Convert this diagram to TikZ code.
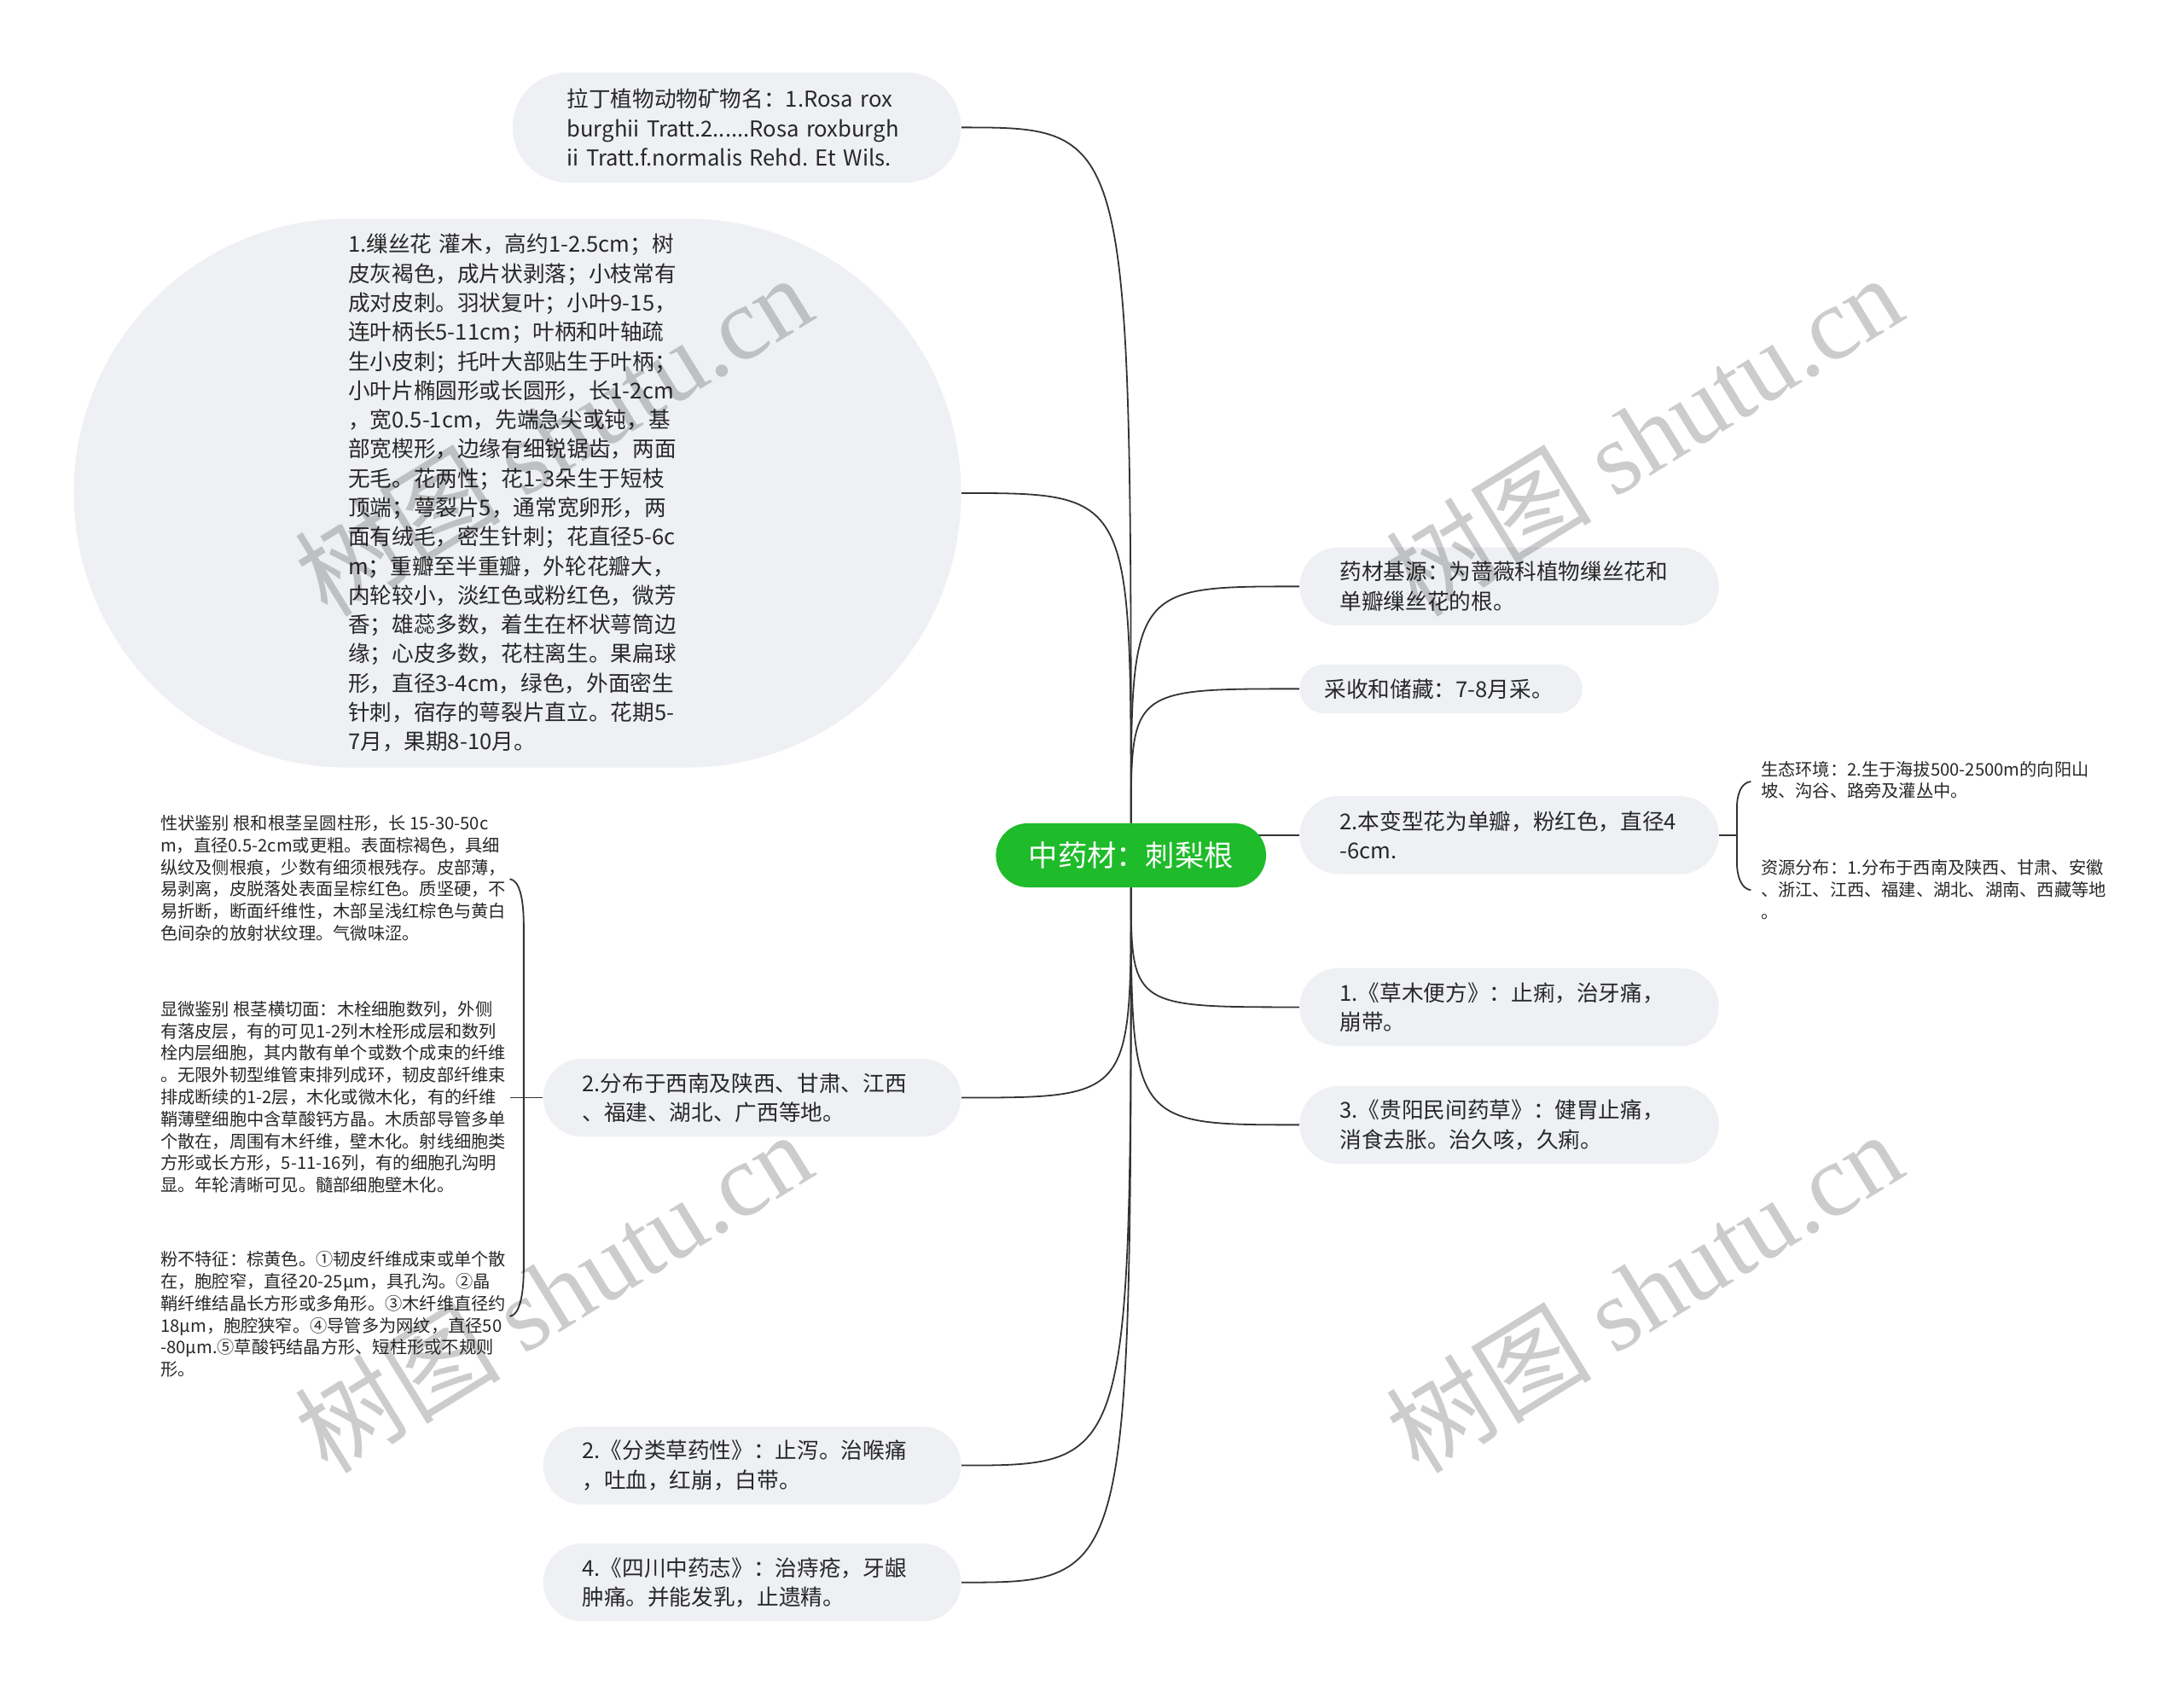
\documentclass[tikz,border=0pt]{standalone}
\usepackage{fontspec}
\setmainfont{Noto Sans CJK SC}
\newfontfamily\wmlat{Liberation Serif}
\usetikzlibrary{backgrounds}
\definecolor{bubfill}{RGB}{238,240,243}
\definecolor{linecol}{RGB}{51,51,51}
\definecolor{rootgreen}{RGB}{30,187,42}
\definecolor{txtcol}{RGB}{40,40,40}
\frenchspacing
\begin{document}
\begin{tikzpicture}[x=1pt,y=-1pt,
  every node/.append style={execute at begin node={\frenchspacing\exhyphenpenalty=10000\hyphenpenalty=10000}},
  bubble/.style={fill=bubfill, rectangle, inner ysep=0pt, align=left, text=txtcol,
    font=\fontsize{15.7}{21}\selectfont},
  twoline/.style={bubble, minimum height=56pt, rounded corners=28pt},
  leaftext/.style={inner sep=0pt, align=left, anchor=west, text=txtcol,
    font=\fontsize{12.4}{15.8}\selectfont},
  conn/.style={draw=linecol, line width=1.1pt},
  wmark/.style={text=black, opacity=0.2, font=\fontsize{74}{74}\selectfont, inner sep=0pt}]
\useasboundingbox (0,0) rectangle (1568,1218);

% root
\node[fill=rootgreen, text=white, rounded corners=23pt, minimum width=194pt,
  minimum height=46pt, inner sep=0pt, font=\fontsize{21}{21}\selectfont] (c) at (812,614) {中药材：刺梨根};

% upper left
\node[bubble, minimum width=322pt, minimum height=79pt, rounded corners=39.5pt,
  inner xsep=39pt, text width=244pt] (lat) at (529,91.5)
  {\mbox{拉丁植物动物矿物名：1.Rosa rox}\\\mbox{burghii Tratt.2......Rosa roxburgh}\\\mbox{ii Tratt.f.normalis Rehd. Et Wils.}};

\node[bubble, minimum width=637pt, minimum height=394pt, rounded corners=196.9pt,
  inner xsep=197pt, text width=243pt] (big) at (371.5,354)
  {\mbox{1.缫丝花 灌木，高约1-2.5cm；树}\\皮灰褐色，成片状剥落；小枝常有\\成对皮刺。羽状复叶；小叶9-15，\\连叶柄长5-11cm；叶柄和叶轴疏\\生小皮刺；托叶大部贴生于叶柄；\\小叶片椭圆形或长圆形，长1-2cm\\，宽0.5-1cm，先端急尖或钝，基\\部宽楔形，边缘有细锐锯齿，两面\\无毛。花两性；花1-3朵生于短枝\\顶端；萼裂片5，通常宽卵形，两\\面有绒毛，密生针刺；花直径5-6c\\m；重瓣至半重瓣，外轮花瓣大，\\内轮较小，淡红色或粉红色，微芳\\香；雄蕊多数，着生在杯状萼筒边\\缘；心皮多数，花柱离生。果扁球\\形，直径3-4cm，绿色，外面密生\\针刺，宿存的萼裂片直立。花期5-\\7月，果期8-10月。};

% right
\node[twoline, minimum width=301pt, inner xsep=29pt, text width=243pt] (r1) at (1083.5,421)
  {药材基源：为蔷薇科植物缫丝花和\\单瓣缫丝花的根。};
\node[bubble, minimum width=203pt, minimum height=35pt, rounded corners=17.5pt,
  inner xsep=18pt, text width=167pt] (r2) at (1034.5,494.5) {采收和储藏：7-8月采。};
\node[twoline, minimum width=301pt, inner xsep=29pt, text width=243pt] (r3) at (1083.5,599.5)
  {2.本变型花为单瓣，粉红色，直径4\\-6cm.};
\node[twoline, minimum width=301pt, inner xsep=29pt, text width=243pt] (r4) at (1083.5,723)
  {1.《草木便方》：止痢，治牙痛，\\崩带。};
\node[twoline, minimum width=301pt, inner xsep=29pt, text width=243pt] (r5) at (1083.5,807.5)
  {3.《贵阳民间药草》：健胃止痛，\\消食去胀。治久咳，久痢。};

% right leaves
\node[leaftext] (rt1) at (1264,560) {生态环境：2.生于海拔500-2500m的向阳山\\坡、沟谷、路旁及灌丛中。};
\node[leaftext] (rt2) at (1264,638.5) {资源分布：1.分布于西南及陕西、甘肃、安徽\\、浙江、江西、福建、湖北、湖南、西藏等地\\。};

% lower left
\node[twoline, minimum width=300pt, inner xsep=28pt, text width=244pt] (l1) at (540,788)
  {2.分布于西南及陕西、甘肃、江西\\、福建、湖北、广西等地。};
\node[twoline, minimum width=300pt, inner xsep=28pt, text width=244pt] (l2) at (540,1052)
  {2.《分类草药性》：止泻。治喉痛\\，吐血，红崩，白带。};
\node[twoline, minimum width=300pt, inner xsep=28pt, text width=244pt] (l3) at (540,1136)
  {4.《四川中药志》：治痔疮，牙龈\\肿痛。并能发乳，止遗精。};

% left leaves
\node[leaftext] (lt1) at (115,630.5) {性状鉴别 根和根茎呈圆柱形，长 15-30-50c\\m，直径0.5-2cm或更粗。表面棕褐色，具细\\纵纹及侧根痕，少数有细须根残存。皮部薄，\\易剥离，皮脱落处表面呈棕红色。质坚硬，不\\易折断，断面纤维性，木部呈浅红棕色与黄白\\色间杂的放射状纹理。气微味涩。};
\node[leaftext] (lt2) at (115,787.5) {显微鉴别 根茎横切面：木栓细胞数列，外侧\\有落皮层，有的可见1-2列木栓形成层和数列\\栓内层细胞，其内散有单个或数个成束的纤维\\。无限外韧型维管束排列成环，韧皮部纤维束\\排成断续的1-2层，木化或微木化，有的纤维\\鞘薄壁细胞中含草酸钙方晶。木质部导管多单\\个散在，周围有木纤维，壁木化。射线细胞类\\方形或长方形，5-11-16列，有的细胞孔沟明\\显。年轮清晰可见。髓部细胞壁木化。};
\node[leaftext] (lt3) at (115,943.5) {粉不特征：棕黄色。①韧皮纤维成束或单个散\\在，胞腔窄，直径20-25μm，具孔沟。②晶\\鞘纤维结晶长方形或多角形。③木纤维直径约\\18μm，胞腔狭窄。④导管多为网纹，直径50\\-80μm.⑤草酸钙结晶方形、短柱形或不规则\\形。};

\coordinate (lbk) at (366,788);
\coordinate (rbk) at (1247,599.5);

\begin{scope}[on background layer]
\fill[white] (0,0) rectangle (1568,1218);
\draw[conn] (c.north) .. controls (c.north |- lat.east) .. (lat.east);
\draw[conn] (c.north) .. controls (c.north |- big.east) .. (big.east);
\draw[conn] (c.north) .. controls (c.north |- r1.west) .. (r1.west);
\draw[conn] (c.north) .. controls (c.north |- r2.west) .. (r2.west);
\draw[conn] (c.center |- r3.west) -- (r3.west);
\draw[conn] (c.south) .. controls (c.south |- r4.west) .. (r4.west);
\draw[conn] (c.south) .. controls (c.south |- r5.west) .. (r5.west);
\draw[conn] (c.south) .. controls (c.south |- l1.east) .. (l1.east);
\draw[conn] (c.south) .. controls (c.south |- l2.east) .. (l2.east);
\draw[conn] (c.south) .. controls (c.south |- l3.east) .. (l3.east);
\end{scope}

% brackets
\draw[conn] (l1.west) -- (lbk);
\draw[conn] (366,631) .. controls (373,632) and (376,645) .. (376,665) -- (376,910) .. controls (376,930) and (373,944) .. (366,945);
\draw[conn] (r3.east) -- (rbk);
\draw[conn] (1257,561) .. controls (1250,562) and (1247,570) .. (1247,580) -- (1247,619) .. controls (1247,629) and (1250,638) .. (1257,639);

% watermarks
\node[wmark, rotate=31.6] (wm1) at (397,312) {树图 {\wmlat shutu.cn}};
\node[wmark, rotate=31.6] (wm2) at (1180,312) {树图 {\wmlat shutu.cn}};
\node[wmark, rotate=31.6] (wm3) at (397,927) {树图 {\wmlat shutu.cn}};
\node[wmark, rotate=31.6] (wm4) at (1180,927) {树图 {\wmlat shutu.cn}};
\end{tikzpicture}
\end{document}
